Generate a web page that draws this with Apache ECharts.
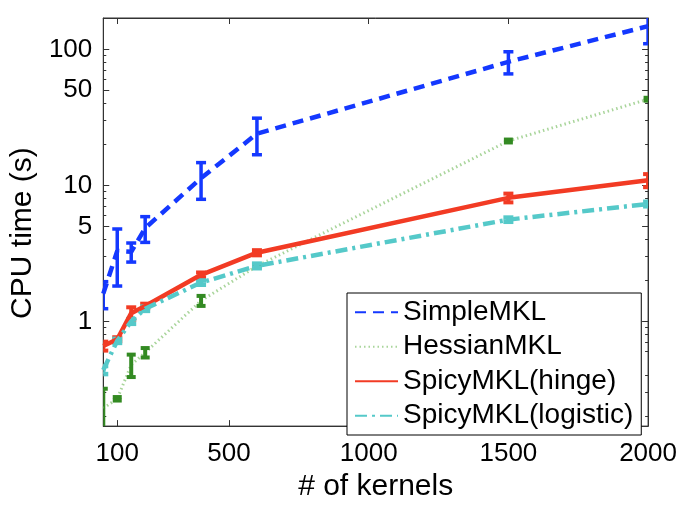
<!DOCTYPE html>
<html>
<head>
<meta charset="utf-8">
<script src="https://cdn.jsdelivr.net/npm/echarts@6/dist/echarts.min.js"></script>
<style>
html,body{margin:0;padding:0;background:#fff;}
#chart{width:680px;height:507px;}
</style>
</head>
<body>
<div id="chart"></div>
<script>
// ---- data ----
const kernels = [50, 100, 150, 200, 400, 600, 1500, 2000];

const simpleMKL      = [1.6, 3.3, 3.25, 4.85, 11.3, 24, 81, 148];
const simpleMKLErr   = [0.36, 1.48, 0.52, 1.04, 3.4, 7.2, 15, 38];

const hessianMKL     = [0.23, 0.27, 0.48, 0.59, 1.42, 2.55, 21.2, 43];
const hessianMKLErr  = [0.09, 0.008, 0.09, 0.047, 0.12, 0.06, 0.52, 1.05];

const spicyHinge     = [0.66, 0.74, 1.15, 1.3, 2.2, 3.2, 8.1, 10.9];
const spicyHingeErr  = [0.05, 0.025, 0.12, 0.05, 0.09, 0.14, 0.6, 1.2];

const spicyLogistic    = [0.44, 0.72, 1.0, 1.24, 1.93, 2.56, 5.6, 7.3];
const spicyLogisticErr = [0.03, 0.025, 0.04, 0.045, 0.07, 0.1, 0.2, 0.28];

const xTicks = [100, 500, 1000, 1500, 2000];
const yTicks = [1, 5, 10, 50, 100];
const yMinorTicks = [0.2,0.3,0.4,0.6,0.7,0.8,0.9,2,3,4,6,7,8,9,20,30,40,60,70,80,90];

const names = ['SimpleMKL', 'HessianMKL', 'SpicyMKL(hinge)', 'SpicyMKL(logistic)'];

// ---- chart ----
const FONT = 'Liberation Sans, Arial, sans-serif';
const chart = echarts.init(document.getElementById('chart'), null, {renderer: 'canvas'});

const pairs = (ys) => kernels.map((x, i) => [x, ys[i]]);
const errData = (ys, es) => kernels.map((x, i) => [x, ys[i] - es[i], ys[i] + es[i]]);

function errRender(color, capW, thick) {
  return function (params, api) {
    const x = api.value(0), lo = api.value(1), hi = api.value(2);
    const pLo = api.coord([x, lo]);
    const pHi = api.coord([x, hi]);
    const cs = params.coordSys;
    const rect = {x: cs.x, y: cs.y, width: cs.width, height: cs.height};
    const shapes = [
      {x: pHi[0] - thick / 2, y: pHi[1], width: thick, height: pLo[1] - pHi[1]},
      {x: pHi[0] - capW / 2, y: pHi[1] - thick / 2, width: capW, height: thick},
      {x: pLo[0] - capW / 2, y: pLo[1] - thick / 2, width: capW, height: thick}
    ];
    const children = shapes
      .map(s => echarts.graphic.clipRectByRect(s, rect))
      .filter(Boolean)
      .map(s => ({type: 'rect', shape: s, style: {fill: color}}));
    return {type: 'group', children: children};
  };
}

const colors = {
  blue: '#1438ff',
  greenLine: '#a9d59b',
  greenBar: '#338a22',
  red: '#f23b24',
  cyan: '#55c9c9'
};

const yMin = 0.17, yMax = 170;
const axisColor = '#333';

const option = {
  animation: false,
  backgroundColor: '#fff',
  grid: {left: 103, right: 30, top: 18, bottom: 64, show: true, borderColor: axisColor, borderWidth: 1},
  legend: {
    data: names,
    orient: 'vertical',
    left: 347,
    top: 293,
    padding: [5, 8, 5, 7],
    itemGap: 6,
    itemWidth: 43,
    itemHeight: 14,
    itemStyle: {opacity: 0},
    backgroundColor: '#fff',
    borderColor: '#000',
    borderWidth: 1,
    textStyle: {fontFamily: FONT, fontSize: 28, color: '#000', lineHeight: 28.5}
  },
  xAxis: [{
    type: 'value', min: 50, max: 2000, position: 'bottom',
    name: '# of kernels', nameLocation: 'middle', nameGap: 36,
    nameTextStyle: {fontFamily: FONT, fontSize: 30, color: '#000'},
    axisLine: {show: true, lineStyle: {color: axisColor}},
    axisTick: {show: true, inside: true, length: 6, customValues: xTicks, lineStyle: {color: axisColor}},
    axisLabel: {customValues: xTicks, fontFamily: FONT, fontSize: 26, color: '#000', margin: 15,
                formatter: v => String(v)},
    splitLine: {show: false}
  }, {
    type: 'value', min: 50, max: 2000, position: 'top',
    axisLine: {show: true, lineStyle: {color: axisColor}},
    axisTick: {show: true, inside: true, length: 6, customValues: xTicks, lineStyle: {color: axisColor}},
    axisLabel: {show: false},
    splitLine: {show: false}
  }],
  yAxis: [{
    type: 'log', min: yMin, max: yMax, position: 'left',
    name: 'CPU time (s)', nameLocation: 'middle', nameGap: 65,
    nameTextStyle: {fontFamily: FONT, fontSize: 30, color: '#000', padding: [0, 22, 0, 0]},
    axisLine: {show: true, lineStyle: {color: axisColor}},
    axisTick: {show: true, inside: true, length: 6, customValues: yTicks, lineStyle: {color: axisColor}},
    axisLabel: {customValues: yTicks, fontFamily: FONT, fontSize: 26, color: '#000', margin: 11},
    splitLine: {show: false}, minorTick: {show: false}
  }, {
    type: 'log', min: yMin, max: yMax, position: 'left',
    axisLine: {show: false},
    axisTick: {show: true, inside: true, length: 3, customValues: yMinorTicks, lineStyle: {color: axisColor}},
    axisLabel: {show: false},
    splitLine: {show: false}
  }, {
    type: 'log', min: yMin, max: yMax, position: 'right',
    axisLine: {show: true, lineStyle: {color: axisColor}},
    axisTick: {show: true, inside: true, length: 6, customValues: yTicks, lineStyle: {color: axisColor}},
    axisLabel: {show: false},
    splitLine: {show: false}
  }, {
    type: 'log', min: yMin, max: yMax, position: 'right',
    axisLine: {show: false},
    axisTick: {show: true, inside: true, length: 3, customValues: yMinorTicks, lineStyle: {color: axisColor}},
    axisLabel: {show: false},
    splitLine: {show: false}
  }],
  series: [
    {name: names[0], type: 'line', data: pairs(simpleMKL), symbol: 'none', z: 5,
     lineStyle: {color: colors.blue, width: 4.5, type: [11, 7]}, itemStyle: {color: colors.blue}},
    {name: names[1], type: 'line', data: pairs(hessianMKL), symbol: 'none', z: 2,
     lineStyle: {color: colors.greenLine, width: 3, type: [1.5, 3]}, itemStyle: {color: colors.greenLine}},
    {name: names[2], type: 'line', data: pairs(spicyHinge), symbol: 'none', z: 4,
     lineStyle: {color: colors.red, width: 4.5, type: 'solid'}, itemStyle: {color: colors.red}},
    {name: names[3], type: 'line', data: pairs(spicyLogistic), symbol: 'none', z: 4,
     lineStyle: {color: colors.cyan, width: 4.5, type: [12, 5, 3, 5]}, itemStyle: {color: colors.cyan}},

    {name: 'err0', type: 'custom', data: errData(simpleMKL, simpleMKLErr), renderItem: errRender(colors.blue, 10, 3.5), z: 5, encode: {x: 0, y: [1, 2]}},
    {name: 'err1', type: 'custom', data: errData(hessianMKL, hessianMKLErr), renderItem: errRender(colors.greenBar, 9, 4), z: 3, encode: {x: 0, y: [1, 2]}},
    {name: 'err2', type: 'custom', data: errData(spicyHinge, spicyHingeErr), renderItem: errRender(colors.red, 10, 4), z: 4, encode: {x: 0, y: [1, 2]}},
    {name: 'err3', type: 'custom', data: errData(spicyLogistic, spicyLogisticErr), renderItem: errRender(colors.cyan, 10, 4.5), z: 4, encode: {x: 0, y: [1, 2]}}
  ]
};
chart.setOption(option);
</script>
</body>
</html>
